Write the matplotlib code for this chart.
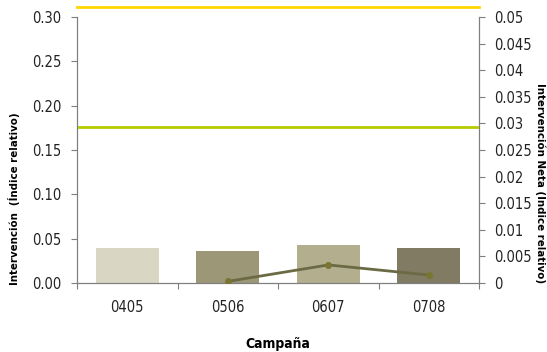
import numpy as np
import matplotlib.pyplot as plt

campanas = ["0405", "0506", "0607", "0708"]
intervencion = [0.040, 0.036, 0.043, 0.040]
neta_x = ["0506", "0607", "0708"]
neta = [0.0003, 0.0034, 0.0015]
limite_sup = 0.311
limite_inf = 0.176

bar_colors = ["#D9D7C3", "#9C9777", "#B3AE8E", "#817B63"]

plt.rcParams.update({
    "font.family": ["DejaVu Sans"],
    "font.stretch": "condensed",
    "font.size": 10.5,
    "axes.edgecolor": "#7f7f7f",
    "xtick.color": "#7f7f7f",
    "ytick.color": "#7f7f7f",
    "xtick.labelcolor": "#222222",
    "ytick.labelcolor": "#222222",
})

fig = plt.figure(figsize=(5.47, 3.52), dpi=100)
ax = fig.add_axes([0.1408, 0.196, 0.7349, 0.7557])

x = np.arange(len(campanas))
ax.bar(x, intervencion, width=0.63, color=bar_colors, zorder=2)
ax.axhline(limite_sup, color="#FFD700", lw=2, clip_on=False, zorder=3)
ax.axhline(limite_inf, color="#B5CC00", lw=2, zorder=3)

ax.set_xlim(-0.5, 3.5)
ax.set_ylim(0, 0.30)
ax.set_yticks(np.arange(0, 0.31, 0.05))
ax.set_yticklabels([f"{v:.2f}" for v in np.arange(0, 0.31, 0.05)])
ax.set_xticks(np.arange(-0.5, 3.6, 1.0))
ax.set_xticklabels([])
ax.set_xticks(x, minor=True)
ax.set_xticklabels(campanas, minor=True)
ax.tick_params(axis="x", which="minor", length=0, pad=12)
ax.tick_params(axis="x", which="major", length=4)
ax.tick_params(axis="y", length=4, pad=7)
ax.spines["top"].set_visible(False)
ax.set_xlabel("Campaña", fontweight="bold", fontsize=10, labelpad=16)

ax2 = ax.twinx()
pos = [campanas.index(c) for c in neta_x]
ax2.plot(pos, neta, color="#6B6A45", lw=2, marker="o", ms=4,
         mfc="#7A7530", mec="#7A7530", zorder=4)
ax2.set_ylim(0, 0.05)
ticks2 = np.arange(0, 0.0501, 0.005)
ax2.set_yticks(ticks2)
ax2.set_yticklabels(["0"] + [f"{v:g}" for v in ticks2[1:]])
ax2.tick_params(axis="y", length=4, pad=7)
ax2.spines["top"].set_visible(False)

fig.text(14 / 547, 1 - 199 / 352, "Intervención  (Índice relativo)",
         rotation=90, ha="center", va="center", fontweight="bold", fontsize=8.2)
fig.text(540 / 547, 1 - 183 / 352, "Intervención Neta (Indice relativo)",
         rotation=270, ha="center", va="center", fontweight="bold", fontsize=8.2)

fig.savefig("out.png", dpi=100)
